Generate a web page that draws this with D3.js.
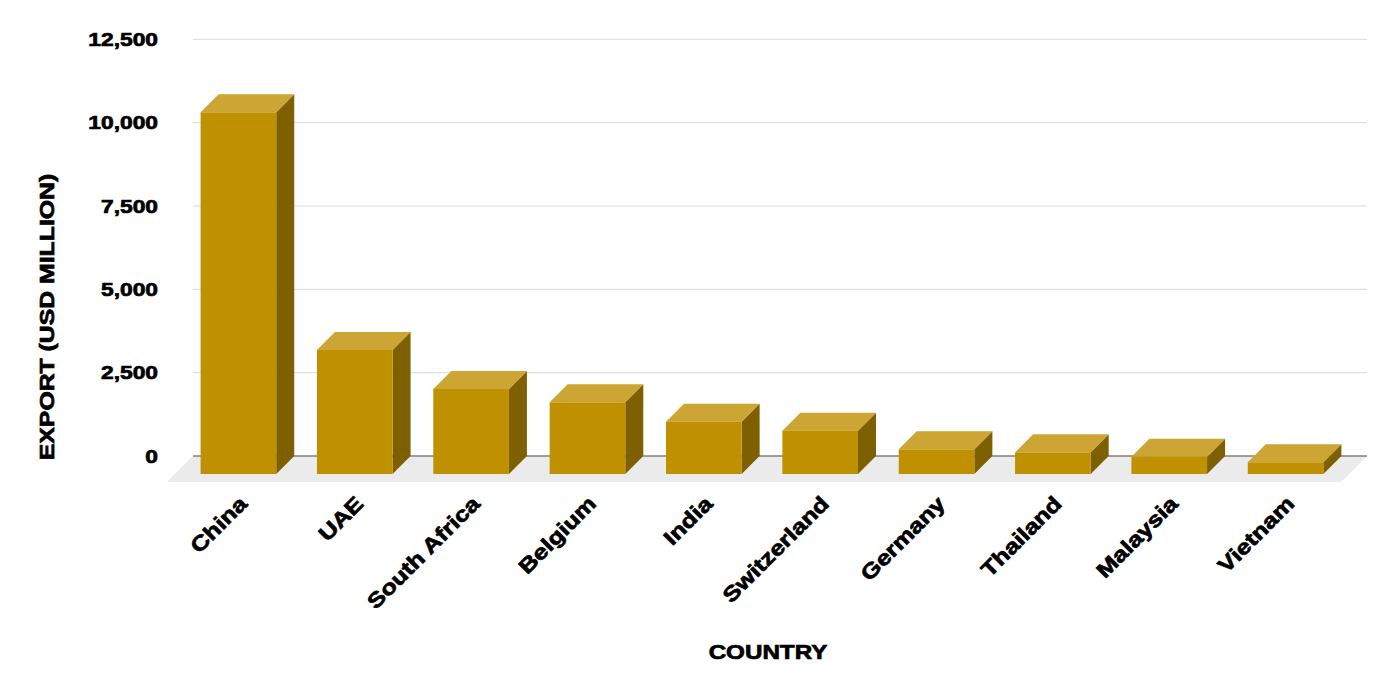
<!DOCTYPE html>
<html>
<head>
<meta charset="utf-8">
<script src="https://cdn.jsdelivr.net/npm/d3@7"></script>
<style>
  html, body { margin: 0; padding: 0; background: #ffffff; }
  svg { display: block; }
  text { font-family: "Liberation Sans", Arial, sans-serif; font-weight: bold; fill: #000; stroke: #000; stroke-width: 0.7px; paint-order: stroke; }
</style>
</head>
<body>
<svg id="chart" width="1398" height="690"></svg>
<script>
const categories = ["China", "UAE", "South Africa", "Belgium", "India", "Switzerland", "Germany", "Thailand", "Malaysia", "Vietnam"];
const exportValues = [10850, 3720, 2550, 2150, 1570, 1300, 740, 650, 520, 350];
const tickValues = [0, 2500, 5000, 7500, 10000, 12500];
const yTitle = "EXPORT (USD MILLION)";
const xTitle = "COUNTRY";

const svg = d3.select("#chart");

// wall (back plane) geometry
const wallLeft = 193, wallRight = 1367;
const wallBase = 456, wallTop = 39.3;
const barDepth = 18;    // bar depth offset
const floorDepth = 26;  // floor depth
const K = 1.2;          // horizontal widening of glyphs (heavy font look)

const y = d3.scaleLinear().domain([0, 12500]).range([wallBase, wallTop]);
const x = d3.scaleBand().domain(categories)
  .range([wallLeft - barDepth, wallRight - barDepth])
  .paddingInner(0.35).paddingOuter(0.22);

const colFront = "#BF9000", colTop = "#CDA535", colSide = "#7F6000";

// gridlines
svg.append("g").selectAll("line").data(tickValues.filter(d => d > 0)).join("line")
  .attr("x1", wallLeft).attr("x2", wallRight)
  .attr("y1", d => y(d)).attr("y2", d => y(d))
  .attr("stroke", "#D9D9D9").attr("stroke-width", 1);

// floor
svg.append("path")
  .attr("d", `M${wallLeft},${wallBase} L${wallRight},${wallBase} L${wallRight - floorDepth},${wallBase + floorDepth} L${wallLeft - floorDepth},${wallBase + floorDepth} Z`)
  .attr("fill", "#EBEBEB");
svg.append("line")
  .attr("x1", wallLeft).attr("x2", wallRight)
  .attr("y1", wallBase).attr("y2", wallBase)
  .attr("stroke", "#7F7F7F").attr("stroke-width", 1.5);

// y tick labels
svg.append("g").selectAll("text").data(tickValues).join("text")
  .attr("transform", d => `translate(158,${y(d)}) scale(${K},1)`)
  .attr("dy", "0.35em")
  .attr("text-anchor", "end")
  .attr("font-size", 19)
  .text(d => d3.format(",")(d));

// bars
const data = categories.map((c, i) => ({ c, v: exportValues[i] }));
const frontBase = wallBase + barDepth;
svg.append("g").selectAll("g").data(data).join("g").each(function (d) {
  const g = d3.select(this);
  const x0 = x(d.c), w = x.bandwidth();
  const yt = y(d.v) + barDepth;
  g.append("path")
    .attr("d", `M${x0 + w},${yt} L${x0 + w + barDepth},${yt - barDepth} L${x0 + w + barDepth},${frontBase - barDepth} L${x0 + w},${frontBase} Z`)
    .attr("fill", colSide);
  g.append("path")
    .attr("d", `M${x0},${yt} L${x0 + barDepth},${yt - barDepth} L${x0 + w + barDepth},${yt - barDepth} L${x0 + w},${yt} Z`)
    .attr("fill", colTop);
  g.append("rect")
    .attr("x", x0).attr("y", yt)
    .attr("width", w).attr("height", frontBase - yt)
    .attr("fill", colFront);
});

// x labels
svg.append("g").selectAll("text").data(categories).join("text")
  .attr("transform", d => `translate(${x(d) + x.bandwidth() / 2 + 10},${505}) rotate(-45) scale(${K},1)`)
  .attr("text-anchor", "end")
  .attr("font-size", 21)
  .text(d => d);

// axis titles
svg.append("text")
  .attr("transform", `translate(54,317) rotate(-90) scale(1.24,1)`)
  .attr("text-anchor", "middle")
  .attr("font-size", 20)
  .text(yTitle);

svg.append("text")
  .attr("transform", `translate(768,659) scale(1.21,1)`)
  .attr("text-anchor", "middle")
  .attr("font-size", 20)
  .text(xTitle);
</script>
</body>
</html>
